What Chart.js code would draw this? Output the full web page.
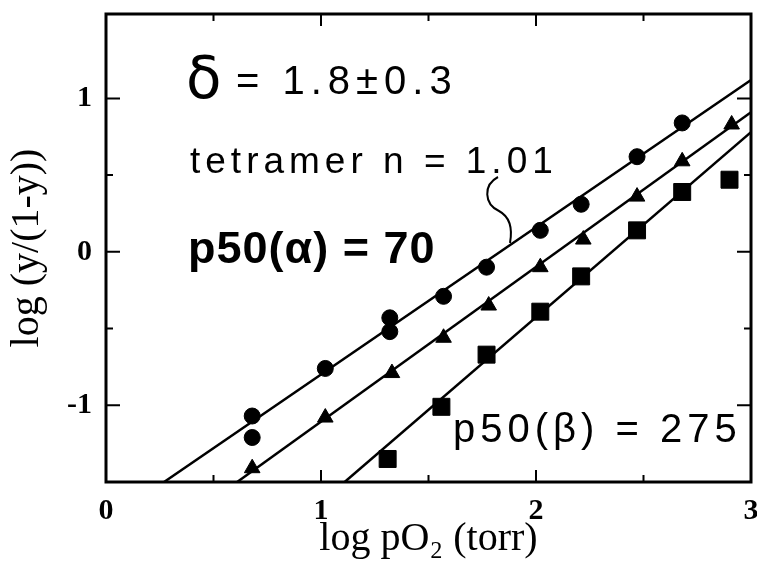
<!DOCTYPE html>
<html>
<head>
<meta charset="utf-8">
<script src="https://cdn.jsdelivr.net/npm/chart.js@4.4.0/dist/chart.umd.min.js"></script>
<style>
  html, body { margin: 0; padding: 0; background: #fff; }
</style>
</head>
<body>
<canvas id="graph1" width="757" height="565"></canvas>
<script>
// circles = alpha, triangles = tetramer, squares = beta
const alphaX = [0.68, 0.68, 1.02, 1.32, 1.32, 1.57, 1.77, 2.02, 2.21, 2.47, 2.68];
const alphaY = [-1.07, -1.21, -0.76, -0.43, -0.52, -0.29, -0.10, 0.14, 0.31, 0.62, 0.84];
const tetX = [0.68, 1.02, 1.33, 1.57, 1.78, 2.02, 2.22, 2.47, 2.68, 2.91];
const tetY = [-1.41, -1.08, -0.79, -0.56, -0.35, -0.10, 0.08, 0.36, 0.59, 0.83];
const betaX = [1.31, 1.56, 1.77, 2.02, 2.21, 2.47, 2.68, 2.90];
const betaY = [-1.35, -1.01, -0.67, -0.39, -0.16, 0.14, 0.39, 0.47];

// fitted lines, end points
const alphaFitX = [0.27, 3.0];
const alphaFitY = [-1.5, 1.12];
const tetFitX = [0.61, 3.0];
const tetFitY = [-1.5, 0.91];
const betaFitX = [1.11, 3.0];
const betaFitY = [-1.5, 0.78];

const xTickLabels = ['0', '1', '2', '3'];
const yTickLabels = ['-1', '0', '1'];

function pts(xs, ys) {
    return xs.map((x, i) => ({x: x, y: ys[i]}));
}

function isWhole(v) {
    return Math.abs(v - Math.round(v)) < 1e-6;
}

const ctx = document.querySelector('#graph1').getContext('2d');

// box round the plot with ticks pointing inward
const frameTicks = {
    id: 'frameTicks',
    afterDraw(chart) {
        const {ctx, chartArea: a, scales: {x, y}} = chart;
        ctx.save();
        ctx.strokeStyle = '#000';
        ctx.lineWidth = 3;
        ctx.strokeRect(a.left, a.top, a.right - a.left, a.bottom - a.top);
        ctx.lineWidth = 2;
        ctx.beginPath();
        x.ticks.forEach(t => {
            if (t.value <= x.min + 1e-6 || t.value >= x.max - 1e-6) return;
            const px = x.getPixelForValue(t.value);
            const len = isWhole(t.value) ? 12 : 7;
            ctx.moveTo(px, a.bottom); ctx.lineTo(px, a.bottom - len);
            ctx.moveTo(px, a.top); ctx.lineTo(px, a.top + len);
        });
        y.ticks.forEach(t => {
            if (t.value <= y.min + 1e-6 || t.value >= y.max - 1e-6) return;
            const py = y.getPixelForValue(t.value);
            const len = isWhole(t.value) ? 14 : 7;
            ctx.moveTo(a.left, py); ctx.lineTo(a.left + len, py);
            ctx.moveTo(a.right, py); ctx.lineTo(a.right - len, py);
        });
        ctx.stroke();
        ctx.restore();
    }
};

// the hand written notes
const notes = {
    id: 'notes',
    afterDatasetsDraw(chart) {
        const {ctx} = chart;
        ctx.save();
        ctx.fillStyle = '#000';
        ctx.textBaseline = 'alphabetic';
        ctx.textAlign = 'left';

        ctx.font = '58px "DejaVu Sans"';
        ctx.fillText('δ', 186, 98);
        ctx.font = '40px "Liberation Sans"';
        ctx.letterSpacing = '6px';
        ctx.fillText('= 1.8±0.3', 236, 94);

        ctx.letterSpacing = '5px';
        ctx.font = '37px "Liberation Sans"';
        ctx.fillText('tetramer n = 1.01', 190, 173);

        ctx.letterSpacing = '1px';
        ctx.font = 'bold 45px "Liberation Sans"';
        ctx.fillText('p50(α) = 70', 188, 263);

        ctx.letterSpacing = '5px';
        ctx.font = '40px "Liberation Sans"';
        ctx.fillText('p50(β) = 275', 453, 442);

        // curly brace towards the tetramer line
        ctx.lineWidth = 2;
        ctx.beginPath();
        ctx.moveTo(498, 177);
        ctx.bezierCurveTo(483, 185, 484, 204, 499, 211);
        ctx.bezierCurveTo(512, 218, 512, 232, 510, 243);
        ctx.stroke();
        ctx.restore();
    }
};

const lineStyle = {
    type: 'line',
    borderColor: '#000',
    borderWidth: 2.5,
    pointRadius: 0,
    fill: false,
    showLine: true
};

const graph = new Chart(ctx, {
    type: 'scatter',
    data: {
        datasets: [
            Object.assign({label: 'alpha fit', data: pts(alphaFitX, alphaFitY)}, lineStyle),
            Object.assign({label: 'tetramer fit', data: pts(tetFitX, tetFitY)}, lineStyle),
            Object.assign({label: 'beta fit', data: pts(betaFitX, betaFitY)}, lineStyle),
            {
                label: 'alpha',
                data: pts(alphaX, alphaY),
                pointStyle: 'circle',
                pointRadius: 8,
                backgroundColor: '#000',
                borderColor: '#000'
            },
            {
                label: 'tetramer',
                data: pts(tetX, tetY),
                pointStyle: 'triangle',
                pointRadius: 9,
                backgroundColor: '#000',
                borderColor: '#000'
            },
            {
                label: 'beta',
                data: pts(betaX, betaY),
                pointStyle: 'rect',
                pointRadius: 12,
                backgroundColor: '#000',
                borderColor: '#000'
            }
        ]
    },
    plugins: [frameTicks, notes],
    options: {
        responsive: false,
        animation: false,
        layout: {autoPadding: false, padding: {top: 14, right: 6, left: 0, bottom: 0}},
        plugins: {
            legend: {display: false},
            tooltip: {enabled: false}
        },
        scales: {
            x: {
                type: 'linear',
                min: 0,
                max: 3,
                grid: {display: false, drawTicks: false},
                border: {display: false},
                ticks: {
                    stepSize: 0.5,
                    padding: 11,
                    color: '#000',
                    font: {family: '"Liberation Serif"', size: 30, weight: 'bold'},
                    maxRotation: 0,
                    autoSkip: false,
                    callback: v => isWhole(v) ? xTickLabels[Math.round(v)] : ''
                },
                title: {
                    display: true,
                    text: 'log pO₂ (torr)',
                    color: '#000',
                    font: {family: '"Liberation Serif"', size: 40, lineHeight: 1},
                    padding: {top: 0, bottom: 6}
                },
                afterFit: s => {
                    s.height = 83;
                    s.paddingLeft = 0;
                    s.paddingRight = 0;
                }
            },
            y: {
                type: 'linear',
                min: -1.5,
                max: 1.55,
                grid: {display: false, drawTicks: false},
                border: {display: false},
                ticks: {
                    stepSize: 0.5,
                    padding: 14,
                    color: '#000',
                    font: {family: '"Liberation Serif"', size: 30, weight: 'bold'},
                    autoSkip: false,
                    callback: v => isWhole(v) && Math.abs(v) <= 1 ? yTickLabels[Math.round(v) + 1] : ''
                },
                title: {
                    display: true,
                    text: 'log (y/(1-y))',
                    color: '#000',
                    font: {family: '"Liberation Serif"', size: 40, lineHeight: 1},
                    padding: {top: 7, bottom: 0}
                },
                afterFit: s => {
                    s.width = 106;
                    s.paddingTop = 0;
                    s.paddingBottom = 0;
                }
            }
        }
    }
});
</script>
</body>
</html>
